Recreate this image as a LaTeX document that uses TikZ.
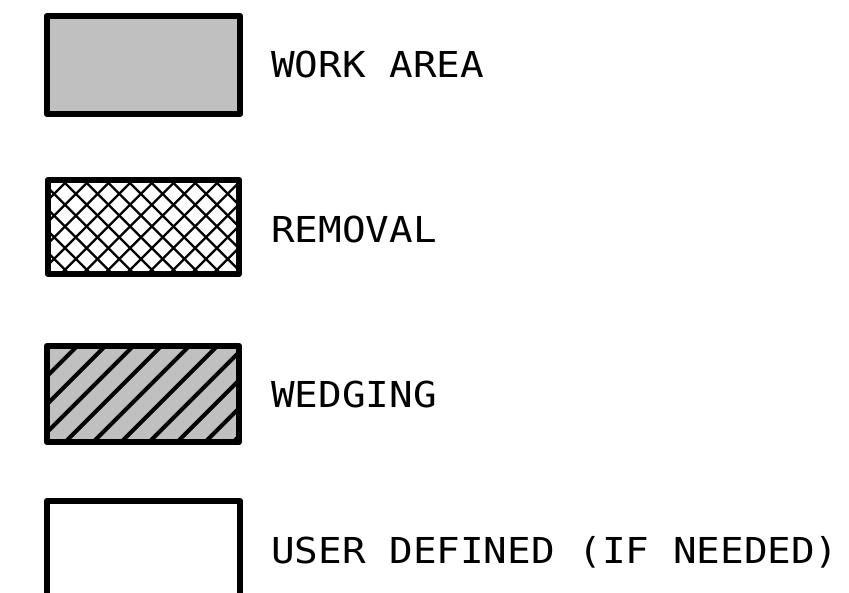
\documentclass[tikz,border=0pt]{standalone}
\usepackage{fontspec}
\newfontfamily\labfont[FakeStretch=1.1]{DejaVu Sans Mono}
\definecolor{fillgray}{RGB}{192,192,192}
\begin{document}
\begin{tikzpicture}[x=1pt,y=-1pt,
  boxline/.style={line width=6.5pt, line join=round},
  crossline/.style={line width=2.3pt},
  wedgeline/.style={line width=4pt},
  lab/.style={anchor=base west, inner sep=0pt, font=\labfont\fontsize{35.7}{40}\selectfont}]
\useasboundingbox (0,0) rectangle (849,592);
% WORK AREA
\fill[fillgray] (47,16) rectangle (240,114);
\draw[boxline] (47,16) rectangle (240,114);
\node[lab] (work) at (271,77) {WORK AREA};
% REMOVAL
\begin{scope}
  \clip (48,180) rectangle (239,274);
  \foreach \k in {-6,...,9} {
    \pgfmathsetmacro{\c}{-118+21.7*\k}
    \draw[crossline] (\c+170,170) -- (\c+290,290);
  }
  \foreach \k in {-1,...,13} {
    \pgfmathsetmacro{\c}{248+21.7*\k}
    \draw[crossline] (\c-170,170) -- (\c-290,290);
  }
\end{scope}
\draw[boxline] (48,180) rectangle (239,274);
\node[lab] (removal) at (271,242) {REMOVAL};
% WEDGING
\fill[fillgray] (47,346) rectangle (239,442);
\begin{scope}
  \clip (47,346) rectangle (239,442);
  \foreach \k in {-2,...,10} {
    \pgfmathsetmacro{\c}{423.3+28*\k}
    \draw[wedgeline] (\c-330,330) -- (\c-460,460);
  }
\end{scope}
\draw[boxline] (47,346) rectangle (239,442);
\node[lab] (wedging) at (271,407) {WEDGING};
% USER DEFINED
\draw[boxline] (47,610) -- (47,501) -- (240,501) -- (240,610);
\node[lab] (user) at (271,563) {USER DEFINED (IF NEEDED)};
\end{tikzpicture}
\end{document}
